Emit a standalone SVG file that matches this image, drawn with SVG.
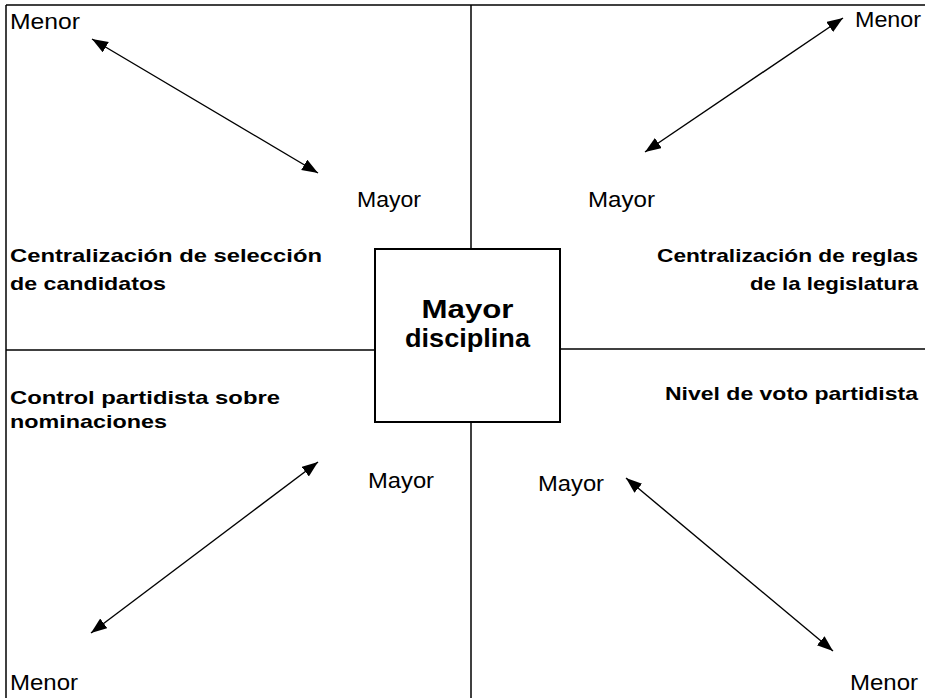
<svg xmlns="http://www.w3.org/2000/svg" width="925" height="698" viewBox="0 0 925 698">
<style>
.ln{stroke:#000;stroke-width:1.5;fill:none}
.ar{stroke:#000;stroke-width:1.4;fill:none;marker-start:url(#ah);marker-end:url(#ah)}
.r{font-family:"Liberation Sans",Arial,sans-serif;font-size:22px;fill:#000}
.b{font-family:"Liberation Sans",Arial,sans-serif;font-size:18.5px;font-weight:bold;fill:#000}
.c{font-family:"Liberation Sans",Arial,sans-serif;font-size:25px;font-weight:bold;fill:#000;text-anchor:middle}
</style>
<defs>
<marker id="ah" markerUnits="userSpaceOnUse" markerWidth="18" markerHeight="14" refX="16" refY="6" orient="auto-start-reverse">
<path d="M0,0 L16,6 L0,12 z" fill="#000"/>
</marker>
</defs>
<rect width="925" height="698" fill="#fff"/>
<g id="frame">
<line class="ln" x1="6" y1="5" x2="925" y2="5"/>
<line class="ln" x1="6" y1="5" x2="6" y2="698"/>
<line class="ln" x1="471" y1="5" x2="471" y2="249"/>
<line class="ln" x1="471" y1="422" x2="471" y2="698"/>
<line class="ln" x1="6" y1="350" x2="375" y2="350"/>
<line class="ln" x1="560" y1="349" x2="925" y2="349"/>
</g>
<g id="center">
<rect x="375" y="249" width="185" height="173" fill="#fff" stroke="#000" stroke-width="2"/>
<text class="c" x="467.5" y="318" textLength="92" lengthAdjust="spacingAndGlyphs">Mayor</text>
<text class="c" x="467.5" y="347" textLength="125" lengthAdjust="spacingAndGlyphs">disciplina</text>
</g>
<g id="connectors">
<line class="ar" x1="92" y1="39" x2="318" y2="173"/>
<line class="ar" x1="843" y1="18" x2="645" y2="152"/>
<line class="ar" x1="318" y1="462" x2="91" y2="633"/>
<line class="ar" x1="626" y1="478" x2="833" y2="651"/>
</g>
<g id="top-left">
<text class="r" x="10" y="29" textLength="70" lengthAdjust="spacingAndGlyphs">Menor</text>
<text class="r" x="357" y="207" textLength="64" lengthAdjust="spacingAndGlyphs">Mayor</text>
<text class="b" x="10" y="262" textLength="312" lengthAdjust="spacingAndGlyphs">Centralización de selección</text>
<text class="b" x="10" y="290" textLength="156" lengthAdjust="spacingAndGlyphs">de candidatos</text>
</g>
<g id="top-right">
<text class="r" x="855" y="27" textLength="66" lengthAdjust="spacingAndGlyphs">Menor</text>
<text class="r" x="588" y="207" textLength="67" lengthAdjust="spacingAndGlyphs">Mayor</text>
<text class="b" x="657" y="262" textLength="261" lengthAdjust="spacingAndGlyphs">Centralización de reglas</text>
<text class="b" x="750" y="290" textLength="168" lengthAdjust="spacingAndGlyphs">de la legislatura</text>
</g>
<g id="bottom-left">
<text class="b" x="10" y="404" textLength="270" lengthAdjust="spacingAndGlyphs">Control partidista sobre</text>
<text class="b" x="10" y="428" textLength="157" lengthAdjust="spacingAndGlyphs">nominaciones</text>
<text class="r" x="368" y="488" textLength="66" lengthAdjust="spacingAndGlyphs">Mayor</text>
<text class="r" x="10" y="690" textLength="68" lengthAdjust="spacingAndGlyphs">Menor</text>
</g>
<g id="bottom-right">
<text class="b" x="665" y="400" textLength="253" lengthAdjust="spacingAndGlyphs">Nivel de voto partidista</text>
<text class="r" x="538" y="491" textLength="66" lengthAdjust="spacingAndGlyphs">Mayor</text>
<text class="r" x="850" y="690" textLength="68" lengthAdjust="spacingAndGlyphs">Menor</text>
</g>
</svg>
